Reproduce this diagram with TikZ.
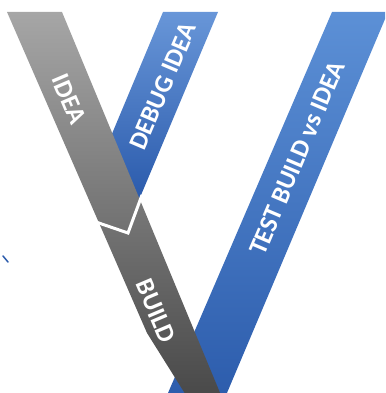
\documentclass[tikz,border=0pt]{standalone}
\usepackage{fontspec}
\setmainfont{Carlito}

\tikzset{
  vlabel/.style={text=white, font=\fontsize{26}{30}\selectfont\bfseries, inner sep=0pt},
}

\begin{document}
\begin{tikzpicture}[x=1pt, y=-1pt]
\useasboundingbox (0,0) rectangle (385,393);
\clip (0,0) rectangle (385,393);
% blue bands behind the grey one
\shade[top color={rgb,255:red,92;green,144;blue,214}, bottom color={rgb,255:red,44;green,92;blue,172}]
  (332,12) -- (388,12) -- (224,400) -- (165,400) -- cycle;
\shade[top color={rgb,255:red,104;green,150;blue,216}, bottom color={rgb,255:red,40;green,88;blue,170}]
  (163,12) -- (218,12) -- (136,207) -- (105,150) -- (114,129) -- cycle;
% grey band
\shade[top color={rgb,255:red,166;green,166;blue,166}, bottom color={rgb,255:red,72;green,72;blue,72}]
  (7,12) -- (62,12) -- (223,400) -- (189,400) -- (147,333) -- cycle;
% notch between the two halves
\coordinate (notchL) at (93,221);
\coordinate (notchV) at (128,233);
\coordinate (notchR) at (142,195);
\draw[white, line width=3pt] (notchL) -- (notchV) -- (notchR);
% labels
\node[vlabel, rotate=-67] (idea) at (69,99) {IDEA};
\node[vlabel, rotate=-67] (build) at (156,311) {BUILD};
\node[vlabel, rotate=67] (debug) at (163,86) {DEBUG IDEA};
\node[vlabel, rotate=67] (test) at (297,158) {TEST BUILD vs IDEA};
% stray mark at the left
\draw[color={rgb,255:red,44;green,92;blue,172}, line width=1.5pt, line cap=round] (3,256) -- (8,262);
\end{tikzpicture}
\end{document}
